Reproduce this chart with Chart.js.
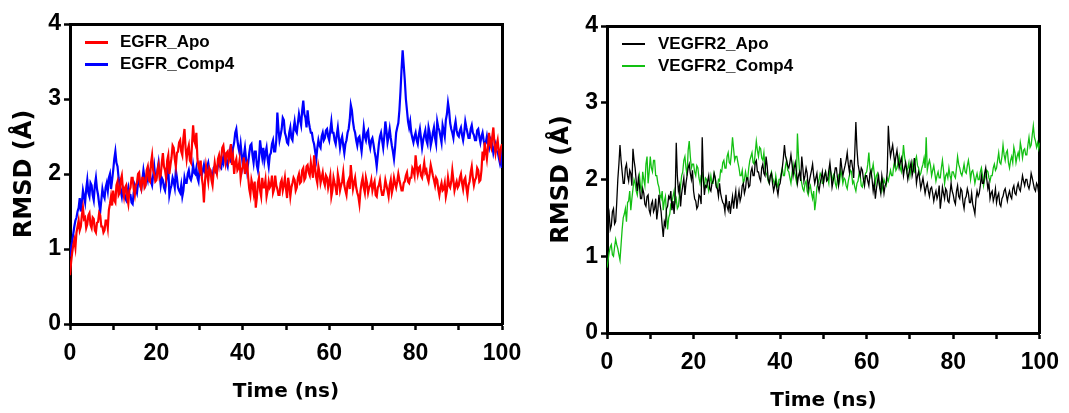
<!DOCTYPE html>
<html><head><meta charset="utf-8">
<script src="https://cdn.jsdelivr.net/npm/chart.js@4.4.1/dist/chart.umd.min.js"></script>
<style>
html,body{margin:0;padding:0;background:#fff;}
#wrap{position:relative;width:1069px;height:413px;overflow:hidden;background:#fff;}
.pane{position:absolute;top:0;height:413px;}
.lg-text{position:absolute;white-space:nowrap;font:bold 17px "Liberation Sans",Arial,sans-serif;line-height:20px;color:#000;}
.lg-line{position:absolute;}
</style></head><body>
<div id="wrap">
  <div class="pane" style="left:0;width:535px"><canvas id="c1" width="535" height="413"></canvas></div>
  <div class="pane" style="left:535px;width:534px"><canvas id="c2" width="534" height="413"></canvas></div>
</div>
<script>
// ---------------- data (RMSD in Å, 0–100 ns, one row = 10 ns) ----------------
const durationNs = 100;

const egfrApo = [
 0.65,0.82,0.95,1.05,1.12,1.02,1.22,1.30,1.38,1.25,1.30,1.45,1.55,1.40,1.42,1.28,1.33,1.45,1.48,1.32,
 1.28,1.42,1.40,1.25,1.22,1.35,1.36,1.48,1.45,1.30,1.30,1.22,1.25,1.38,1.38,1.28,1.52,1.60,1.70,1.58,
 1.78,1.65,1.62,1.85,1.90,1.72,1.75,1.92,1.98,1.80,1.70,1.82,1.85,1.68,1.60,1.78,1.82,1.95,1.95,1.80,
 1.72,1.85,1.88,2.00,2.02,1.85,1.80,1.95,1.95,1.82,1.85,2.05,2.10,1.92,1.90,2.15,2.25,2.05,2.00,1.90,
 1.92,2.05,2.12,1.95,1.98,2.15,2.28,2.10,2.05,1.95,2.18,2.25,2.00,2.12,2.22,2.38,2.35,2.20,2.10,2.28,
 2.30,2.42,2.45,2.30,2.25,2.48,2.60,2.35,2.20,2.32,2.38,2.18,2.15,2.40,2.65,2.45,2.40,2.55,2.20,2.10,
 2.05,2.18,1.95,1.85,1.62,1.90,2.10,2.00,1.90,2.08,2.05,1.92,1.85,2.02,2.15,2.05,2.00,2.20,2.25,2.12,
 2.20,2.35,2.38,2.25,2.15,2.28,2.30,2.18,2.25,2.40,2.12,2.22,2.00,2.15,2.20,2.05,2.08,2.18,1.95,2.05,
 2.10,2.22,2.00,2.12,2.15,1.95,1.80,1.72,1.92,1.85,1.75,1.90,1.55,1.68,1.88,1.95,1.78,1.70,1.95,1.82,
 1.82,1.92,1.70,1.78,1.90,1.82,1.85,1.98,1.75,1.80,1.98,1.85,1.80,1.72,1.72,1.88,1.92,1.78,1.85,1.95,
 1.80,1.68,1.95,1.85,1.70,1.82,1.88,1.95,1.92,1.78,1.82,1.95,2.00,1.88,1.90,2.05,2.08,1.92,1.95,2.10,
 2.12,2.02,1.98,2.15,2.05,1.95,2.25,2.08,1.95,1.88,2.10,2.02,1.88,1.95,2.02,1.90,1.85,1.98,1.95,1.82,
 1.90,1.98,1.70,1.78,1.95,1.88,1.82,1.72,2.00,1.92,1.78,1.85,1.90,2.02,1.85,1.78,1.72,1.88,1.92,1.80,
 2.12,1.95,1.80,1.88,1.95,1.82,1.75,1.70,1.60,1.78,1.88,1.95,1.82,1.75,1.95,1.88,1.75,1.82,1.85,1.92,
 1.78,1.85,1.90,1.72,1.70,1.82,1.85,1.92,1.80,1.72,1.72,1.80,1.92,1.85,1.78,1.70,1.85,1.92,1.75,1.82,
 1.95,1.88,1.82,1.90,2.00,1.92,1.85,1.78,1.78,1.88,1.90,1.98,2.02,1.90,1.88,1.95,1.95,2.08,2.05,1.98,
 2.25,2.10,2.00,2.08,2.10,1.98,1.95,2.05,2.15,2.02,2.05,1.95,1.90,2.00,2.12,2.05,1.98,1.92,1.85,1.95,
 1.92,1.80,1.72,1.82,1.88,1.78,1.80,1.88,1.70,1.78,1.95,1.85,1.82,1.90,2.05,1.92,1.78,1.85,1.90,1.82,
 1.85,1.95,2.00,1.88,1.80,1.92,1.95,1.82,1.72,1.85,1.90,2.02,2.10,1.95,1.85,1.92,1.95,2.08,2.05,1.90,
 1.92,2.05,2.30,2.18,2.42,2.30,2.20,2.35,2.55,2.40,2.35,2.50,2.62,2.40,2.28,2.38,2.45,2.30,2.22,2.35,
 2.40
];

const egfrComp4 = [
 0.90,1.02,1.10,1.20,1.30,1.38,1.42,1.50,1.55,1.68,1.50,1.62,1.78,1.70,1.62,1.80,1.92,1.75,1.70,1.88,
 1.85,1.72,1.65,1.85,1.95,1.80,1.72,1.60,1.50,1.65,1.80,1.72,1.68,1.82,1.88,1.78,1.95,2.00,1.80,1.92,
 2.05,2.20,2.30,2.15,2.10,1.95,1.85,1.78,1.70,1.82,1.78,1.68,1.65,1.75,1.82,1.72,1.72,1.62,1.60,1.75,
 1.85,1.80,1.75,1.88,1.95,1.85,1.80,1.92,2.05,1.95,1.88,1.98,1.92,2.05,2.00,1.90,1.85,1.98,2.10,1.95,
 1.95,2.05,2.15,2.00,1.85,1.95,1.92,1.82,1.78,1.90,2.00,2.10,1.72,1.80,1.85,1.95,1.90,1.82,2.05,1.95,
 1.82,1.78,1.75,1.85,1.70,1.78,1.95,1.88,1.88,2.00,2.05,1.95,1.92,1.98,2.12,2.02,2.00,2.08,1.95,1.90,
 2.08,2.00,1.98,2.05,2.12,2.02,2.00,2.10,2.15,2.05,2.05,1.98,1.95,2.08,2.10,2.02,2.02,2.12,2.18,2.10,
 2.08,2.20,2.15,2.28,2.25,2.15,2.10,2.22,2.30,2.18,2.20,2.35,2.42,2.55,2.60,2.45,2.35,2.28,2.40,2.25,
 2.12,2.25,2.35,2.20,2.05,2.15,2.28,2.38,2.40,2.25,2.15,2.30,2.30,2.12,2.05,2.20,2.45,2.32,2.22,2.35,
 2.18,2.28,2.35,2.20,2.10,2.25,2.28,2.40,2.45,2.30,2.30,2.45,2.82,2.60,2.45,2.52,2.60,2.75,2.72,2.55,
 2.50,2.42,2.40,2.55,2.62,2.48,2.45,2.60,2.70,2.58,2.55,2.68,2.80,2.72,2.65,2.85,2.98,2.80,2.75,2.62,
 2.85,2.70,2.62,2.55,2.55,2.45,2.40,2.30,2.20,2.35,2.45,2.38,2.35,2.50,2.55,2.45,2.48,2.58,2.60,2.50,
 2.45,2.58,2.70,2.55,2.55,2.45,2.40,2.52,2.62,2.48,2.35,2.45,2.50,2.38,2.28,2.40,2.45,2.55,2.60,2.72,
 2.92,2.85,2.70,2.60,2.55,2.45,2.38,2.48,2.50,2.40,2.30,2.45,2.62,2.50,2.45,2.55,2.58,2.42,2.35,2.45,
 2.48,2.40,2.30,2.22,2.10,2.25,2.40,2.50,2.55,2.45,2.35,2.50,2.70,2.58,2.42,2.50,2.60,2.48,2.38,2.30,
 2.20,2.35,2.55,2.62,2.68,2.85,3.10,3.40,3.65,3.45,3.25,3.00,2.85,2.70,2.62,2.70,2.55,2.48,2.42,2.50,
 2.55,2.45,2.40,2.52,2.60,2.48,2.35,2.45,2.52,2.58,2.45,2.40,2.62,2.55,2.38,2.45,2.55,2.62,2.48,2.40,
 2.70,2.62,2.58,2.50,2.42,2.65,2.58,2.50,2.72,2.80,2.95,2.85,2.68,2.60,2.55,2.48,2.62,2.70,2.58,2.52,
 2.50,2.58,2.62,2.52,2.45,2.55,2.70,2.62,2.55,2.48,2.48,2.60,2.65,2.55,2.52,2.45,2.45,2.58,2.60,2.50,
 2.42,2.50,2.55,2.45,2.38,2.42,2.50,2.40,2.35,2.48,2.45,2.38,2.28,2.35,2.40,2.30,2.30,2.22,2.15,2.25,
 2.08
];

const vegfr2Apo = [
 1.25,1.45,1.55,1.35,1.40,1.58,1.62,1.42,1.45,1.70,2.00,2.20,2.45,2.25,2.10,1.95,1.95,2.15,2.20,2.05,
 1.98,2.12,2.08,1.92,2.40,2.25,2.15,1.98,1.85,2.02,1.92,1.75,1.75,1.88,1.82,1.68,1.65,1.78,1.80,1.60,
 1.55,1.68,1.72,1.58,1.62,1.75,1.48,1.60,1.80,1.68,1.58,1.40,1.25,1.45,1.40,1.62,1.65,1.78,1.75,1.85,
 1.60,1.72,1.55,1.78,2.48,2.05,1.85,1.92,1.65,1.82,1.92,2.02,1.80,1.95,2.05,2.15,2.20,2.08,2.00,2.12,
 1.85,1.75,1.72,1.62,1.65,1.80,1.78,1.68,2.55,2.05,1.80,1.92,1.90,1.98,2.05,1.88,1.85,1.95,1.98,2.08,
 2.02,1.90,1.88,1.78,1.95,1.82,1.75,1.70,1.68,1.58,1.80,1.65,1.60,1.72,1.55,1.68,1.78,1.62,1.75,1.85,
 1.62,1.75,1.85,1.72,1.78,1.92,1.95,1.82,1.88,2.02,2.02,1.90,1.92,2.10,2.15,2.05,2.05,2.22,2.25,2.10,
 2.10,2.02,1.98,2.15,2.20,2.08,2.05,2.30,2.18,2.00,1.95,2.05,2.08,1.95,1.85,1.92,1.98,1.88,1.80,1.92,
 1.95,2.05,2.15,2.28,2.45,2.30,2.25,2.18,2.15,2.22,2.32,2.20,2.05,2.15,2.22,2.10,1.95,2.05,2.10,1.98,
 2.30,2.15,1.98,2.05,2.15,2.08,1.88,1.98,2.05,2.12,2.20,2.05,1.95,2.02,2.08,1.92,1.85,1.95,2.02,2.10,
 1.95,2.05,2.10,1.98,2.00,2.12,2.22,2.08,1.90,1.98,2.05,2.15,2.15,2.02,1.92,2.05,2.28,2.15,2.05,2.12,
 2.18,2.25,2.35,2.20,2.10,2.25,2.25,2.15,2.02,2.35,2.75,2.40,2.20,2.12,2.05,2.15,2.12,2.00,1.92,2.05,
 2.05,1.98,1.92,2.08,2.12,2.00,1.85,1.95,1.75,1.88,1.98,2.05,1.90,1.82,2.05,1.95,1.82,1.92,1.95,2.10,
 2.70,2.45,2.30,2.38,2.45,2.32,2.20,2.30,2.38,2.25,2.15,2.22,2.28,2.18,2.05,2.15,2.22,2.12,2.00,2.08,
 2.15,2.22,2.05,2.12,2.28,2.15,1.95,2.05,2.10,2.00,1.88,1.95,2.02,1.92,1.82,1.90,1.95,1.85,1.78,1.88,
 1.90,1.82,1.72,1.80,1.85,1.75,1.80,1.92,1.62,1.75,1.90,1.82,1.75,1.88,1.85,1.72,1.70,1.82,1.95,1.85,
 1.80,1.72,1.68,1.85,1.92,1.78,1.75,1.88,1.85,1.70,1.62,1.75,1.78,1.88,1.82,1.70,1.70,1.82,1.68,1.62,
 1.55,1.75,1.85,1.78,1.82,1.92,2.05,1.95,1.95,2.08,2.15,2.00,1.88,1.95,1.75,1.82,1.85,1.72,1.78,1.88,
 1.70,1.78,1.82,1.68,1.65,1.75,1.78,1.85,1.88,1.80,1.72,1.80,1.85,1.78,1.75,1.88,1.92,1.82,1.80,1.90,
 1.95,1.88,1.85,1.95,2.05,1.98,1.92,2.00,2.00,1.92,1.88,1.95,2.08,2.02,1.95,1.88,1.85,1.95,1.92,1.82,
 1.80
];

const vegfr2Comp4 = [
 0.85,0.95,1.05,1.12,1.15,1.02,1.00,1.12,1.22,1.15,1.10,1.02,0.95,1.15,1.35,1.50,1.55,1.62,1.45,1.70,
 1.72,1.85,1.60,1.75,1.88,2.00,1.95,1.85,1.80,1.95,2.05,1.90,1.85,2.10,2.00,1.92,2.20,2.30,1.95,2.10,
 2.30,2.15,2.10,2.25,2.25,2.05,2.05,1.95,1.90,1.80,1.75,1.85,1.60,1.72,1.78,1.55,1.35,1.50,1.55,1.68,
 1.70,1.78,1.85,1.70,1.75,1.62,1.65,1.80,1.92,2.05,2.10,2.25,2.30,2.15,2.05,2.38,2.50,2.30,2.15,2.20,
 2.20,2.10,2.05,2.18,2.15,2.02,1.95,2.05,2.08,1.98,1.90,2.02,2.00,1.92,1.85,1.95,2.05,1.95,1.95,2.08,
 2.02,1.92,1.88,2.00,1.98,2.12,2.10,2.22,2.25,2.15,2.15,2.30,2.35,2.22,2.20,2.35,2.55,2.40,2.25,2.30,
 2.30,2.22,2.15,2.05,2.05,2.12,1.95,2.00,2.10,2.02,2.00,2.15,2.25,2.30,2.35,2.22,2.20,2.35,2.50,2.38,
 2.30,2.42,2.40,2.28,2.25,2.35,2.15,2.08,2.05,1.98,1.95,2.05,2.10,2.02,1.98,1.92,2.05,1.95,1.90,2.00,
 2.00,2.08,2.15,2.05,2.05,2.18,2.25,2.12,2.10,2.02,1.95,2.08,2.20,2.10,2.05,1.98,2.60,2.30,2.10,2.02,
 1.95,1.88,1.85,1.95,1.98,1.85,1.80,1.88,1.92,1.82,1.75,1.85,1.60,1.72,1.90,1.95,2.00,2.08,2.05,1.95,
 1.95,2.05,2.10,2.02,2.02,1.95,2.15,2.08,1.98,2.05,2.08,1.95,1.90,2.00,2.05,1.98,2.12,2.05,1.95,2.02,
 2.00,1.92,1.88,1.98,2.05,2.12,2.10,1.95,1.98,1.90,1.85,1.95,1.98,2.08,2.05,1.92,1.90,1.98,2.02,2.08,
 2.10,2.20,2.35,2.15,2.05,2.12,2.20,2.08,1.95,2.05,2.08,1.98,1.90,1.95,1.85,1.92,2.00,1.95,1.92,2.02,
 1.98,2.05,2.12,2.05,2.05,2.18,2.25,2.12,2.15,2.22,2.30,2.15,2.10,2.25,2.45,2.30,2.20,2.10,2.15,2.22,
 2.05,2.15,2.22,2.12,2.10,2.25,2.30,2.18,2.15,2.05,2.08,2.15,2.20,2.28,2.15,2.55,2.12,2.20,2.25,2.18,
 2.05,2.12,2.18,2.08,1.98,2.05,2.10,2.02,2.02,2.15,2.25,2.12,1.95,2.05,2.08,2.02,2.15,2.05,2.00,2.10,
 2.10,2.05,2.02,2.15,2.30,2.20,2.15,2.08,2.05,2.12,2.20,2.10,2.08,2.18,2.25,2.15,2.00,2.10,2.12,2.05,
 1.95,2.02,2.08,2.00,2.00,2.10,2.15,2.05,1.92,2.00,2.05,2.12,2.10,2.02,1.98,2.05,2.05,2.15,2.20,2.12,
 2.15,2.25,2.35,2.22,2.20,2.30,2.45,2.32,2.25,2.35,2.38,2.22,2.15,2.25,2.30,2.22,2.42,2.35,2.22,2.30,
 2.35,2.28,2.48,2.40,2.28,2.38,2.40,2.32,2.32,2.45,2.55,2.42,2.45,2.58,2.70,2.55,2.50,2.42,2.48,2.40,
 2.48
];

const leftLabels  = ['EGFR_Apo', 'EGFR_Comp4'];
const rightLabels = ['VEGFR2_Apo', 'VEGFR2_Comp4'];
const xTickValues = [0,10,20,30,40,50,60,70,80,90,100];
const xTickLabels = ['0','20','40','60','80','100'];
const yTickValues = [0,1,2,3,4];
const yTickLabels = ['0','1','2','3','4'];
const xTitle = 'Time (ns)';
const yTitle = 'RMSD (Å)';

// ---------------- chart building ----------------
const tickFamily  = '"Liberation Sans", Arial, sans-serif';
const titleFamily = '"DejaVu Sans", sans-serif';

function toPoints(arr){ const n = arr.length - 1; return arr.map((v,i)=>({x:i*durationNs/n, y:v})); }

function makeChart(canvasId, paneLeft, labels, series, colors, lineW, g){
  const datasets = series.map((s,i)=>({
    label: labels[i], data: toPoints(s), borderColor: colors[i], backgroundColor: colors[i],
    borderWidth: lineW, pointRadius: 0, tension: 0, fill: false, borderJoinStyle:'miter'
  }));
  const tickGrid = {display:true, drawOnChartArea:false, drawTicks:true, tickLength:6, tickWidth:2.5, tickColor:'#000', color:'#000'};
  const border = {display:true, width:3, color:'#000'};
  const chart = new Chart(document.getElementById(canvasId), {
    type:'line',
    data:{datasets},
    options:{
      responsive:false, animation:false, devicePixelRatio:1,
      layout:{padding:{left:0, top:g.top, right:g.right, bottom:0}},
      plugins:{legend:{display:false}, tooltip:{enabled:false}},
      scales:{
        x:{type:'linear', position:'bottom', min:0, max:100,
           afterBuildTicks:s=>{ s.ticks = xTickValues.map(v=>({value:v})); },
           afterFit:s=>{ s.height = g.xH; },
           grid:tickGrid, border:border,
           ticks:{autoSkip:false, maxRotation:0, minRotation:0, padding:g.xTickPad, color:'#000',
                  font:{family:tickFamily, weight:'bold', size:23},
                  callback:v=> xTickLabels.includes(String(v)) ? String(v) : ''},
           title:{display:true, text:xTitle, color:'#000', font:{family:titleFamily, weight:'bold', size:20},
                  padding:{top:0, bottom:g.xTitlePad}}},
        y:{type:'linear', position:'left', min:0, max:4,
           afterBuildTicks:s=>{ s.ticks = yTickValues.map(v=>({value:v})); },
           afterFit:s=>{ s.width = g.yW; },
           grid:tickGrid, border:border,
           ticks:{padding:3, color:'#000', font:{family:tickFamily, weight:'bold', size:23},
                  callback:v=> yTickLabels.includes(String(v)) ? String(v) : ''},
           title:{display:true, text:yTitle, color:'#000', font:{family:titleFamily, weight:'bold', size:24},
                  padding:{top:g.yTitlePad, bottom:0}}},
        xTop:{type:'linear', position:'top', min:0, max:100, ticks:{display:false},
              grid:{display:false, drawTicks:false}, border:border, afterFit:s=>{ s.height = 0; }},
        yRight:{type:'linear', position:'right', min:0, max:4, ticks:{display:false},
              grid:{display:false, drawTicks:false}, border:border, afterFit:s=>{ s.width = 0; }}
      }
    }
  });
  // legend (HTML, built from the chart's datasets)
  const wrap = document.getElementById('wrap');
  chart.data.datasets.forEach((ds,i)=>{
    const cy = g.legY + i*g.legGap;
    const ln = document.createElement('div');
    ln.className='lg-line';
    ln.style.cssText = `left:${paneLeft+g.legX}px;top:${cy-g.legLineH/2}px;width:${g.legLen}px;height:${g.legLineH}px;background:${ds.borderColor};`;
    wrap.appendChild(ln);
    const tx = document.createElement('div');
    tx.className='lg-text';
    tx.textContent = ds.label;
    tx.style.left = (paneLeft+g.legTextX)+'px';
    tx.style.top = (cy-10)+'px';
    wrap.appendChild(tx);
  });
  return chart;
}

makeChart('c1', 0, leftLabels, [egfrApo, egfrComp4], ['#ff0000','#0000ff'], 2.2,
  {top:24, right:33, xH:89, yW:70, xTickPad:10, xTitlePad:9, yTitlePad:10,
   legX:85, legLen:23, legTextX:120, legY:42, legGap:22, legLineH:3});
makeChart('c2', 535, rightLabels, [vegfr2Apo, vegfr2Comp4], ['#000000','#12c012'], 1.3,
  {top:26, right:27, xH:80, yW:72, xTickPad:10, xTitlePad:0, yTitlePad:12,
   legX:87, legLen:23, legTextX:123, legY:44, legGap:22, legLineH:2});
</script>
</body></html>
